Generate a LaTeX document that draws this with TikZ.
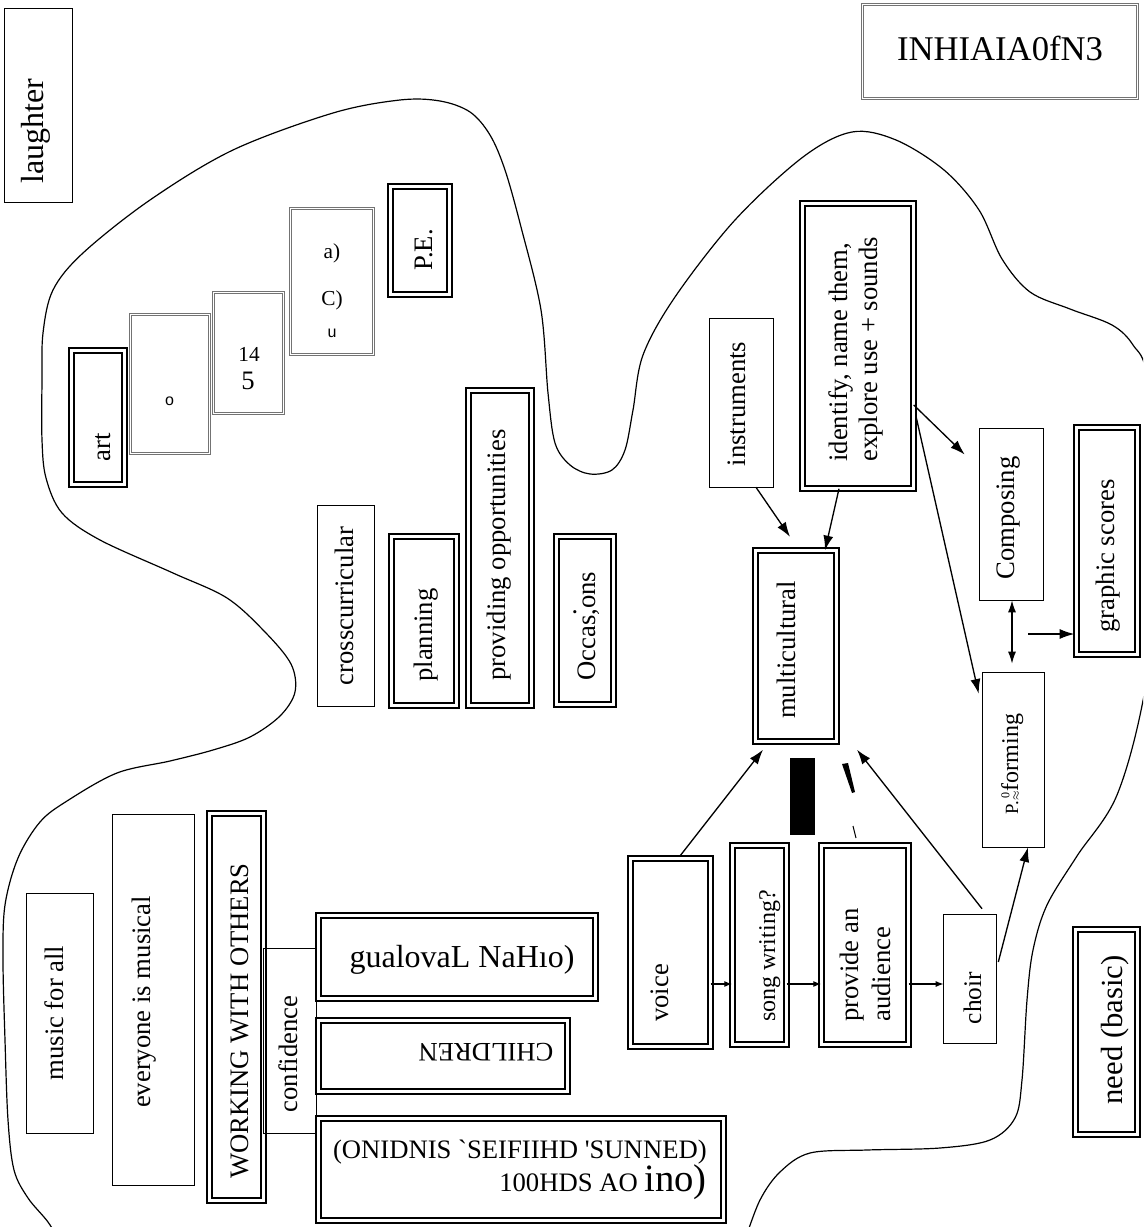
\documentclass[tikz,border=0pt]{standalone}
\usepackage{fontspec}
\setmainfont{Liberation Serif}
\newfontfamily\sanslike{Liberation Sans}
\usetikzlibrary{arrows.meta,calc}
\newcommand\fz[1]{\fontsize{#1}{#1}\selectfont}
% box from outer corners (x1,y1)-(x2,y2) in px; #2 = half of the drawn line thickness in px
\newcommand\mkbox[7]{%
  \pgfmathsetmacro\bxw{(#6-#4-2*#2)*0.75}%
  \pgfmathsetmacro\bxh{(#7-#5-2*#2)*0.75}%
  \node[#1, minimum width=\bxw pt, minimum height=\bxh pt] (#3) at ({(#4+#6)/2},{(#5+#7)/2}) {};%
}
\begin{document}
\begin{tikzpicture}[x=0.75pt,y=-0.75pt,
  sbox/.style={draw=black, line width=1.1pt, inner sep=0pt, outer sep=0pt},
  dbox/.style={draw=black, line width=1.2pt, double=white, double distance=2.6pt, inner sep=0pt, outer sep=0pt},
  gbox/.style={draw=black!55, line width=0.7pt, double=white, double distance=0.9pt, inner sep=0pt, outer sep=0pt},
  rtxt/.style={rotate=90, anchor=base, inner sep=0pt, font=\fz{20}},
  htxt/.style={anchor=base, inner sep=0pt, font=\fz{20}},
  arr/.style={line width=1pt, -{Latex[length=11pt,width=7.5pt]}},
  darr/.style={line width=1pt, {Latex[length=9pt,width=6pt]}-{Latex[length=9pt,width=6pt]}},
  sarr/.style={line width=1pt, -{Latex[length=6pt,width=4.5pt]}},
  blob/.style={line width=0.9pt}
]
\fill[white] (0,0) rectangle (1143,1227);
\useasboundingbox (0,0) rectangle (1143,1227);
\clip (0,0) rectangle (1143,1227);

% outline enclosing the topics
\draw[blob] plot[smooth, tension=0.55] coordinates {
 (62,1245) (48,1222) (28,1198) (14,1170) (8,1120) (5,1040) (3,960) (5,905)
 (18,858) (40,822) (67,801) (117,773) (170,761) (213,750) (250,737) (280,716)
 (295,692) (291,664) (265,632) (227,598) (173,573) (100,540) (62,513) (46,478)
 (42,440) (42,380) (43,333) (53,290) (83,253) (150,200) (233,150) (333,113)
 (400,100) (440,101) (470,112) (490,135) (505,170) (521,227) (541,310) (548,393)
 (555,443) (570,465) (590,474) (612,470) (625,450) (633,410) (643,355) (675,297)
 (735,220) (803,157) (852,132) (896,140) (944,170) (979,210) (1002,259) (1030,292)
 (1070,309) (1112,325) (1133,345) (1148,380) (1165,530) (1145,690) (1117,795)
 (1077,856) (1047,905) (1033,950) (1027,1000) (1022,1080) (1015,1118) (990,1140)
 (940,1148) (867,1150) (810,1153) (780,1172) (760,1200) (745,1240)};

% boxes
\mkbox{sbox}{0.7}{laughter}{4}{8}{73}{203}
\mkbox{gbox}{1.5}{topr}{861}{3}{1139}{100}
\mkbox{dbox}{3.3}{art}{68}{347}{128}{488}
\mkbox{gbox}{1.5}{obox}{129}{313}{211}{455}
\mkbox{gbox}{1.5}{fourteen}{212}{291}{285}{415}
\mkbox{gbox}{1.5}{ac}{289}{207}{375}{356}
\mkbox{dbox}{3.3}{pe}{387}{183}{453}{298}
\mkbox{sbox}{0.7}{cross}{317}{505}{375}{707}
\mkbox{dbox}{3.3}{plan}{388}{533}{460}{709}
\mkbox{dbox}{3.3}{prov}{465}{387}{535}{709}
\mkbox{dbox}{3.3}{occ}{553}{533}{617}{708}
\mkbox{sbox}{0.7}{instr}{709}{318}{774}{488}
\mkbox{dbox}{3.3}{ident}{799}{200}{917}{492}
\mkbox{dbox}{3.3}{multi}{752}{547}{840}{745}
\mkbox{sbox}{0.7}{comp}{979}{428}{1044}{601}
\mkbox{dbox}{3.3}{graph}{1073}{424}{1141}{658}
\mkbox{sbox}{0.7}{perf}{982}{672}{1045}{848}
\mkbox{sbox}{0.7}{music}{26}{893}{94}{1134}
\mkbox{sbox}{0.7}{every}{112}{814}{195}{1186}
\mkbox{dbox}{3.3}{work}{206}{810}{267}{1204}
\mkbox{sbox}{0.7}{conf}{263}{948}{317}{1134}
\mkbox{dbox}{3.3}{langs}{315}{912}{599}{1002}
\mkbox{dbox}{3.3}{child}{315}{1017}{571}{1095}
\mkbox{dbox}{3.3}{school}{315}{1115}{727}{1224}
\mkbox{dbox}{3.3}{voice}{627}{855}{714}{1050}
\mkbox{dbox}{3.3}{song}{729}{842}{790}{1048}
\mkbox{dbox}{3.3}{aud}{818}{842}{912}{1048}
\mkbox{sbox}{0.7}{choir}{943}{914}{997}{1044}
\mkbox{dbox}{3.3}{need}{1072}{926}{1141}{1138}

% labels
\node[rtxt, font=\fz{24}] (t-laughter) at (43,131) {laughter};
\node[htxt, font=\fz{26}] (t-topr) at (1000,61) {INHIAIA0fN3};
\node[rtxt] (t-art) at (110,447) {art};
\node[htxt, font=\sanslike\fz{12}] (t-o) at (169.5,405) {o};
\node[htxt, font=\fz{16}] (t-14) at (249,361) {14};
\node[htxt, font=\fz{20}] (t-5) at (248,389) {5};
\node[htxt, font=\fz{16}] (t-a) at (332,258) {a)};
\node[htxt, font=\fz{16}] (t-c) at (332,305) {C)};
\node[htxt, font=\sanslike\fz{12}] (t-u) at (332,337) {u};
\node[rtxt] (t-pe) at (432,250) {P.E.};
\node[rtxt] (t-cross) at (353,606) {crosscurricular};
\node[rtxt] (t-plan) at (432,635) {planning};
\node[rtxt] (t-prov) at (505,555) {providing opportunities};
\node[rtxt] (t-occ) at (595,626) {O\kern-0.5pt ccas\rlap{\raisebox{1.5ex}{.}},ons};
\node[rtxt] (t-instr) at (745,404) {instruments};
\node[rtxt, anchor=base west] (t-ident1) at (847,462) {identify, name them,};
\node[rtxt, anchor=base west] (t-ident2) at (877,462) {explore use + sounds};
\node[rtxt] (t-multi) at (795,650) {multicultural};
\node[rtxt] (t-comp) at (1014,518) {Composing};
\node[rtxt] (t-graph) at (1114,556) {graphic scores};
\node[rtxt, font=\fz{18}] (t-perf) at (1018,764) {{\fz{14}P.}\kern0.5pt\raisebox{-1pt}{\shortstack{\fz{9}0\\\fz{9}$\approx$}}forming};
\node[rtxt] (t-music) at (63,1013) {music for all};
\node[rtxt] (t-every) at (150,1002) {everyone is musical};
\node[rtxt] (t-work) at (248,1021) {WORKING WITH OTHERS};
\node[rtxt] (t-conf) at (297,1054) {confidence};
\node[htxt, font=\fz{24}] (t-langs) at (462,967) {gualovaL NaHıo)};
\node[rotate=180, inner sep=0pt, font=\fz{20}] (t-child) at (486,1052) {CHILDREN};
\node[htxt, anchor=base east] (t-school1) at (707,1158) {(ONIDNIS \textasciigrave SEIFIIHD \textquotesingle SUNNED)};
\node[htxt, anchor=base east] (t-school2) at (707,1191) {100HDS AO {\fz{29}ino)}};
\node[rtxt] (t-voice) at (668,993) {voice};
\node[rtxt, font=\fz{18}] (t-song) at (775,956) {song writing?};
\node[rtxt, anchor=base west] (t-aud1) at (858,1022) {provide an};
\node[rtxt, anchor=base west] (t-aud2) at (890,1022) {audience};
\node[rtxt, font=\fz{19}] (t-choir) at (981,998) {choir};
\node[rtxt, font=\fz{23}] (t-need) at (1122,1030) {need (basic)};

% blotted marks
\fill (790,758) rectangle (815,835);
\fill (842,764) -- (848,763) -- (855,792) -- (852,793) -- cycle;
\draw[line width=0.8pt] (853,826) -- (856,838);

% connectors
\draw[arr] ($(instr.south)+(14.5,0)$) -- ($(multi.north)+(-6,-13.5)$);
\draw[arr] ($(ident.south)+(-19,0)$) -- ($(multi.north)+(29,0)$);
\draw[arr] ($(ident.east)+(0,59)$) -- ($(comp.west)+(-15,-60)$);
\draw[arr] ($(ident.east)+(2,69)$) -- ($(perf.north west)+(-4,21)$);
\draw[darr] ($(comp.south)+(0.5,0)$) -- ($(perf.north)+(-1.5,-9)$);
\coordinate (gs-in) at (1028,634);
\draw[arr] (gs-in) -- ($(graph.west)+(-2,93)$);
\draw[arr] ($(voice.north)+(10,-3)$) -- ($(multi.south)+(-33,8)$);
\draw[arr] ($(choir.north)+(12,-6)$) -- ($(multi.south)+(61,8)$);
\draw[arr] ($(choir.east)+(2,-17)$) -- ($(perf.south)+(14.5,0)$);
\draw[sarr] ($(voice.east)+(0,31.5)$) -- ($(song.west)+(0,39)$);
\draw[sarr] ($(song.east)+(0,39)$) -- ($(aud.west)+(0,39)$);
\draw[sarr] ($(aud.east)+(0,39)$) -- ($(choir.west)+(0,5)$);
\end{tikzpicture}
\end{document}
